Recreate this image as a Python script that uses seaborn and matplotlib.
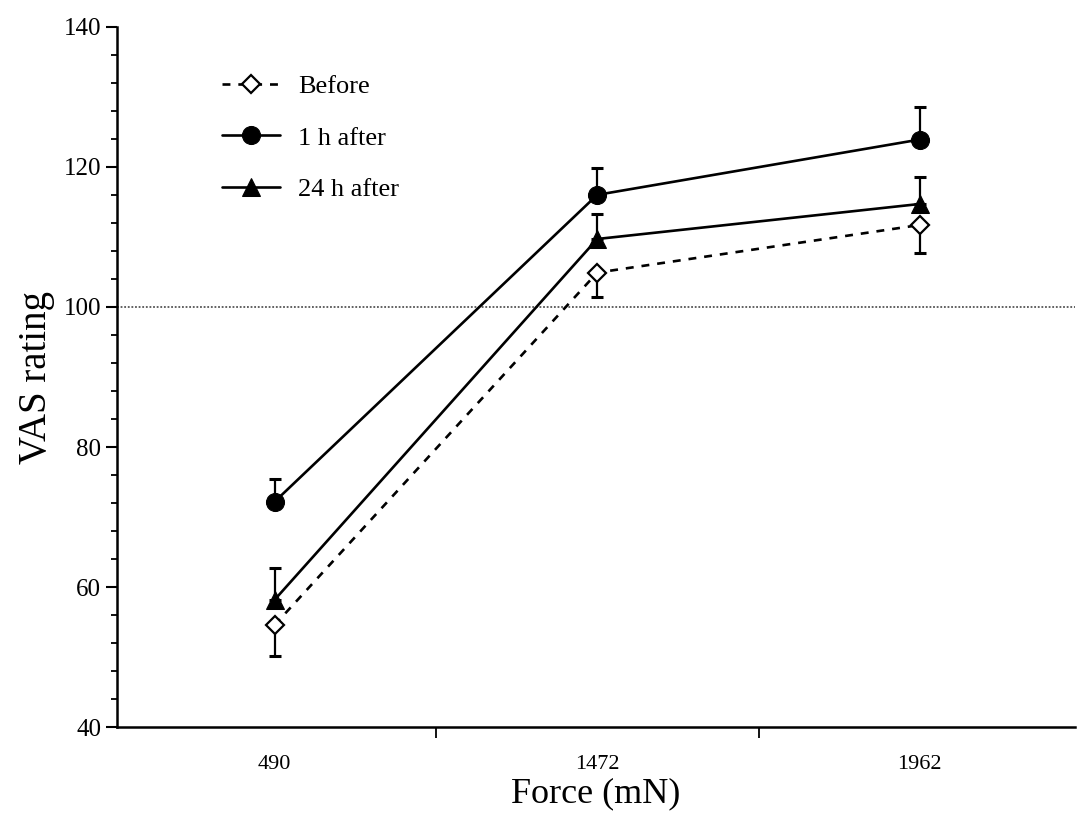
import numpy as np
import pandas as pd
import seaborn as sns
import matplotlib.pyplot as plt
from matplotlib.ticker import MultipleLocator, FixedLocator

forces = ["490", "1472", "1962"]
groups = ["Before", "1 h after", "24 h after"]

before = [54.6, 104.9, 111.7]
after_1h = [72.2, 116.0, 123.9]
after_24h = [58.2, 109.7, 114.7]

# one-sided SEM bars: Before points down, the others point up
before_err = [4.4, 3.5, 4.0]
after_1h_err = [3.2, 3.8, 4.6]
after_24h_err = [4.5, 3.6, 3.8]

sns.set_style("ticks")
plt.rcParams["font.family"] = ["Liberation Serif", "DejaVu Serif"]
plt.rcParams["text.color"] = "black"
plt.rcParams["axes.labelcolor"] = "black"
plt.rcParams["xtick.color"] = "black"
plt.rcParams["ytick.color"] = "black"
plt.rcParams["axes.edgecolor"] = "black"

df = pd.DataFrame({
    "pos": list(range(3)) * 3,
    "VAS": before + after_1h + after_24h,
    "group": np.repeat(groups, 3),
})

fig = plt.figure(figsize=(10.79, 8.35), dpi=100)
ax = fig.add_axes([0.108, 0.129, 0.888, 0.839])

sns.lineplot(data=df, x="pos", y="VAS", hue="group", style="group",
             palette={g: "black" for g in groups},
             markers={"Before": "D", "1 h after": "o", "24 h after": "^"},
             dashes={"Before": (3, 3), "1 h after": "", "24 h after": ""},
             markersize=13, linewidth=1.9, ax=ax, legend=False, zorder=3)

# restyle markers (open diamond for Before)
for line in ax.lines:
    line.set_markeredgecolor("black")
ax.lines[0].set_markerfacecolor("white")
ax.lines[0].set_markersize(9)
ax.lines[0].set_markeredgewidth(1.6)

pos = np.arange(3)
ax.errorbar(pos, before, yerr=[before_err, [0, 0, 0]], fmt="none",
            ecolor="black", elinewidth=1.6, capsize=4, capthick=2.2, zorder=2)
ax.errorbar(pos, after_1h, yerr=[[0, 0, 0], after_1h_err], fmt="none",
            ecolor="black", elinewidth=1.6, capsize=4, capthick=2.2, zorder=2)
ax.errorbar(pos, after_24h, yerr=[[0, 0, 0], after_24h_err], fmt="none",
            ecolor="black", elinewidth=1.6, capsize=4, capthick=2.2, zorder=2)

# reference line at 100
ax.axhline(100, color="#555555", linestyle=(0, (1, 1)), linewidth=1.3,
           clip_on=False, zorder=1)

ax.set_xlim(-0.49, 2.48)
ax.set_ylim(40, 140)
ax.yaxis.set_major_locator(MultipleLocator(20))
ax.yaxis.set_minor_locator(MultipleLocator(4))
ax.set_xticks(pos)
ax.set_xticklabels(forces)
ax.xaxis.set_minor_locator(FixedLocator([0.5, 1.5]))
ax.tick_params(axis="x", which="major", length=0, pad=20, labelsize=16)
ax.tick_params(axis="x", which="minor", length=8, width=1.3, direction="out")
ax.tick_params(axis="y", which="major", length=8, width=1.5, labelsize=18, pad=3)
ax.tick_params(axis="y", which="minor", length=4, width=1.3)

for s in ["top", "right"]:
    ax.spines[s].set_visible(False)
for s in ["left", "bottom"]:
    ax.spines[s].set_linewidth(1.8)

ax.set_xlabel("Force (mN)", fontsize=26, labelpad=2)
ax.set_ylabel("VAS rating", fontsize=28, labelpad=6)

# legend built from the plotted lines
handles = ax.lines[:3]
leg = ax.legend(handles, groups, loc="upper left", bbox_to_anchor=(0.085, 0.965),
                frameon=False, fontsize=19, handlelength=2.2, handletextpad=0.7,
                labelspacing=1.05)

fig.savefig("out.png", dpi=100)
